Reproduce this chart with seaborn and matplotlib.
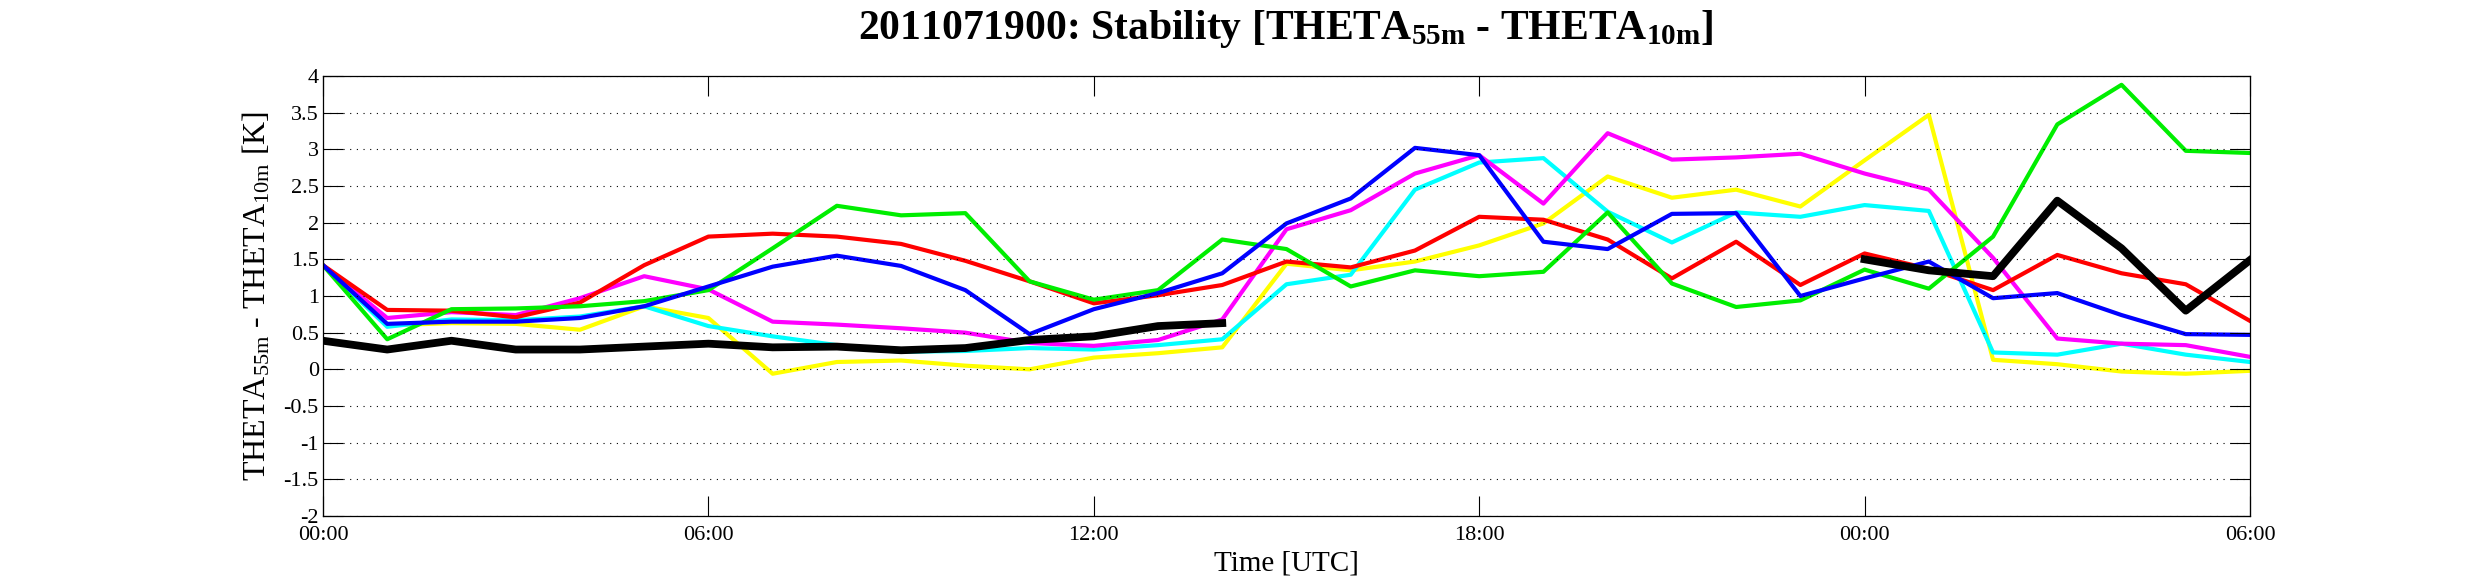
import numpy as np
import pandas as pd
import matplotlib
matplotlib.use("Agg")
import matplotlib.pyplot as plt
import seaborn as sns
from matplotlib.ticker import FixedLocator, FixedFormatter

# ---------------- data (hourly, 00 UTC day 1 .. 06 UTC day 2) ----------------
hours = list(range(31))
x_tick_pos = [0, 6, 12, 18, 24, 30]
x_tick_labels = ["00:00", "06:00", "12:00", "18:00", "00:00", "06:00"]
y_tick_pos = [-2, -1.5, -1, -0.5, 0, 0.5, 1, 1.5, 2, 2.5, 3, 3.5, 4]
y_tick_labels = ["-2", "-1.5", "-1", "-0.5", "0", "0.5", "1", "1.5", "2", "2.5", "3", "3.5", "4"]

yellow = [1.42, 0.60, 0.63, 0.62, 0.54, 0.86, 0.70, -0.06, 0.10, 0.12, 0.05,
          0.00, 0.16, 0.22, 0.30, 1.44, 1.35, 1.47, 1.69, 1.99, 2.63,
          2.34, 2.45, 2.22, 2.85, 3.47, 0.13, 0.07, -0.03, -0.06, -0.02]
cyan = [1.42, 0.58, 0.68, 0.67, 0.72, 0.86, 0.59, 0.45, 0.33, 0.24, 0.25,
        0.29, 0.27, 0.33, 0.41, 1.16, 1.29, 2.45, 2.82, 2.88, 2.15,
        1.73, 2.14, 2.08, 2.24, 2.16, 0.23, 0.20, 0.35, 0.20, 0.10]
magenta = [1.42, 0.70, 0.78, 0.74, 0.97, 1.27, 1.09, 0.65, 0.61, 0.56, 0.50,
           0.36, 0.32, 0.40, 0.68, 1.91, 2.17, 2.67, 2.92, 2.26, 3.22,
           2.86, 2.89, 2.94, 2.67, 2.45, 1.52, 0.42, 0.35, 0.33, 0.17]
red = [1.42, 0.81, 0.80, 0.71, 0.91, 1.42, 1.81, 1.85, 1.81, 1.71, 1.48,
       1.20, 0.90, 1.01, 1.15, 1.47, 1.39, 1.62, 2.08, 2.04, 1.77,
       1.24, 1.74, 1.15, 1.58, 1.37, 1.08, 1.56, 1.31, 1.16, 0.66]
green = [1.42, 0.41, 0.82, 0.83, 0.86, 0.93, 1.08, 1.65, 2.23, 2.10, 2.13,
         1.20, 0.95, 1.08, 1.77, 1.64, 1.13, 1.35, 1.27, 1.33, 2.14,
         1.17, 0.85, 0.94, 1.36, 1.10, 1.81, 3.34, 3.88, 2.98, 2.95]
blue = [1.42, 0.62, 0.65, 0.65, 0.70, 0.86, 1.13, 1.40, 1.55, 1.41, 1.08,
        0.48, 0.82, 1.04, 1.31, 1.99, 2.33, 3.02, 2.92, 1.74, 1.64,
        2.12, 2.13, 1.00, 1.24, 1.47, 0.97, 1.04, 0.74, 0.48, 0.47]
black = [0.39, 0.27, 0.39, 0.27, 0.27, 0.31, 0.35, 0.30, 0.31, 0.26, 0.29,
         0.40, 0.45, 0.59, 0.63, None, None, None, None, None, None,
         None, None, None, 1.50, 1.35, 1.27, 2.30, 1.65, 0.80, 1.49]

series = [("yellow", yellow, "#FFFF00"), ("cyan", cyan, "#00FFFF"),
          ("magenta", magenta, "#FF00FF"), ("red", red, "#FF0000"),
          ("green", green, "#00EE00"), ("blue", blue, "#0000FF"),
          ("black", black, "#000000")]

# ---------------- style ----------------
plt.rcParams["font.family"] = ["Liberation Serif", "DejaVu Serif"]
plt.rcParams["mathtext.fontset"] = "custom"
plt.rcParams["mathtext.rm"] = "Liberation Serif"
plt.rcParams["mathtext.bf"] = "Liberation Serif:bold"
plt.rcParams["mathtext.it"] = "Liberation Serif:italic"
plt.rcParams["axes.unicode_minus"] = False

DPI = 100
fig = plt.figure(figsize=(24.85, 5.84), dpi=DPI)
ax = fig.add_axes([323 / 2485, 1 - 516 / 584, (2250 - 323) / 2485, (516 - 76) / 584])

for name, vals, col in series:
    df = pd.DataFrame({"hour": hours, "val": pd.array(vals, dtype="Float64")}).astype({"val": float})
    valid = df["val"].notna()
    run_id = (valid != valid.shift()).cumsum()
    for _, seg in df[valid].groupby(run_id[valid]):
        sns.lineplot(data=seg, x="hour", y="val", ax=ax, color=col,
                     linewidth=5.6 if name == "black" else 3.0,
                     estimator=None, sort=False, legend=False)

ax.set_xlim(0, 30)
ax.set_ylim(-2, 4)
ax.xaxis.set_major_locator(FixedLocator(x_tick_pos))
ax.xaxis.set_major_formatter(FixedFormatter(x_tick_labels))
ax.yaxis.set_major_locator(FixedLocator(y_tick_pos))
ax.yaxis.set_major_formatter(FixedFormatter(y_tick_labels))
ax.tick_params(axis="both", which="major", direction="in", length=14.4, width=0.8,
               top=True, right=True, labelsize=16, colors="black")
ax.tick_params(axis="x", pad=7)
ax.tick_params(axis="y", pad=3)
for sp in ax.spines.values():
    sp.set_linewidth(0.9)
    sp.set_color("black")
ax.yaxis.grid(True, color="black", linewidth=0.8, linestyle=(0, (1, 5)))
ax.xaxis.grid(False)
ax.set_axisbelow(False)

ax.set_xlabel("Time [UTC]", fontsize=21, labelpad=4)
ax.set_ylabel(r"THETA$_{\mathrm{55m}}$ - THETA$_{\mathrm{10m}}$ [K]", fontsize=23, labelpad=8)

fig.text(0.5175, 1 - 39 / 584,
         r"2011071900: Stability [THETA$_{\mathbf{55m}}$ - THETA$_{\mathbf{10m}}$]",
         ha="center", va="baseline", fontsize=30, fontweight="bold")

fig.savefig("out.png", dpi=DPI, facecolor="white")
